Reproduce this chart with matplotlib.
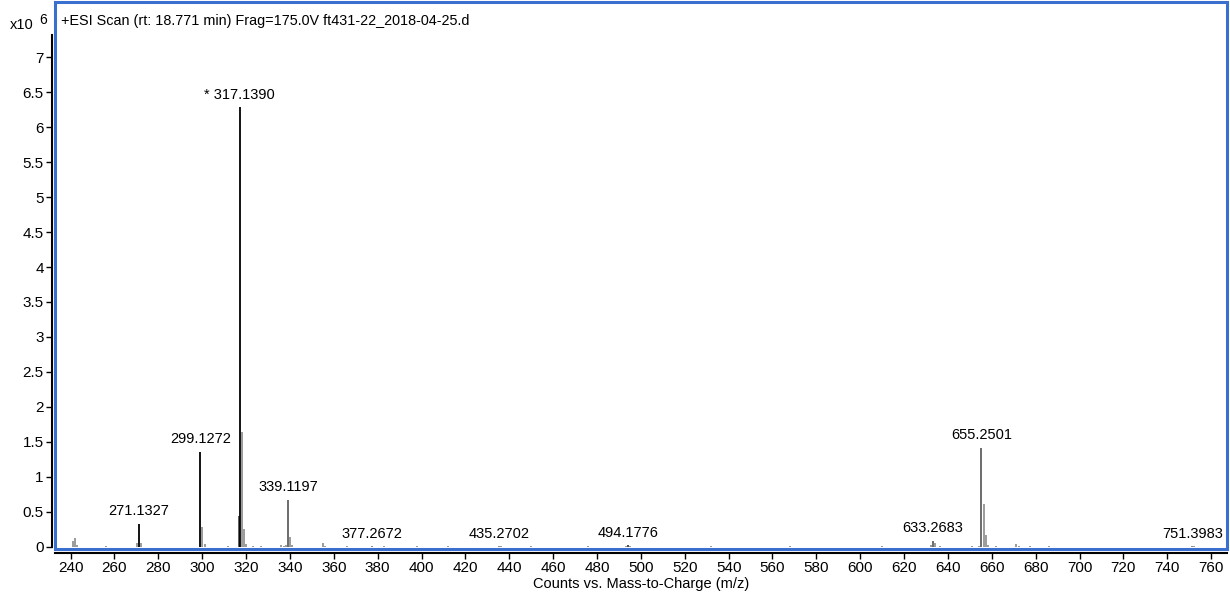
import numpy as np
import matplotlib.pyplot as plt
from matplotlib.patches import Rectangle

plt.rcParams['font.family'] = ['Liberation Sans', 'DejaVu Sans']

# labelled peaks (m/z, counts x10^6, label)
peak_mz = [271.1327, 299.1272, 317.1390, 339.1197, 377.2672, 435.2702,
           494.1776, 633.2683, 655.2501, 751.3983]
peak_counts = [0.33, 1.36, 6.28, 0.67, 0.012, 0.012, 0.025, 0.09, 1.42, 0.01]
peak_labels = ['271.1327', '299.1272', '* 317.1390', '339.1197', '377.2672',
               '435.2702', '494.1776', '633.2683', '655.2501', '751.3983']
peak_colors = ['black', 'black', 'black', '#606060', '#808080',
               '#808080', '#404040', '#606060', '#606060', '#808080']

# unlabelled peaks (isotopes, adducts, noise)
minor_mz = [241.1, 242.1, 243.1, 256.1, 270.1, 272.1, 300.13, 301.1, 312.0,
            316.9, 318.14, 319.14, 320.1, 323.0, 327.0, 336.1, 337.1, 338.1,
            340.12, 341.1, 355.1, 356.1, 366.0, 383.0, 398.0, 412.0, 436.3,
            450.0, 476.0, 493.2, 495.2, 532.0, 568.0, 610.0, 632.3, 634.3,
            636.3, 651.0, 654.2, 656.25, 657.25, 658.2, 662.0, 671.2, 672.2,
            677.2, 686.0, 752.4]
minor_counts = [0.08, 0.13, 0.03, 0.015, 0.05, 0.06, 0.29, 0.04, 0.015,
                0.44, 1.64, 0.25, 0.04, 0.012, 0.015, 0.03, 0.015, 0.03,
                0.14, 0.03, 0.06, 0.02, 0.008, 0.008, 0.006, 0.006, 0.008,
                0.006, 0.006, 0.01, 0.008, 0.006, 0.006, 0.008, 0.03, 0.05,
                0.015, 0.008, 0.02, 0.61, 0.17, 0.03, 0.01, 0.04, 0.02,
                0.02, 0.01, 0.008]
minor_colors = ['#808080'] * len(minor_mz)
minor_colors[minor_mz.index(316.9)] = '#303030'

title = '+ESI Scan (rt: 18.771 min) Frag=175.0V ft431-22_2018-04-25.d'

fig = plt.figure(figsize=(12.3, 6), dpi=100)
ax = fig.add_axes([0.0447, 0.085, 0.953, 0.912])

ax.vlines(minor_mz, 0, minor_counts, colors=minor_colors, linewidth=1.1)
ax.vlines(peak_mz, 0, peak_counts, colors=peak_colors, linewidth=1.3)

for mz, c, lab in zip(peak_mz, peak_counts, peak_labels):
    ax.annotate(lab, (mz, c), xytext=(0, 4), textcoords='offset points',
                ha='center', va='bottom', fontsize=10.5)

ax.set_xlim(232.9, 767.3)
ax.set_ylim(-0.03, 7.79)
ax.set_xticks(np.arange(240, 761, 20))
ax.set_yticks(np.arange(0, 7.01, 0.5))
ax.set_yticklabels(['%g' % v for v in np.arange(0, 7.01, 0.5)])
ax.tick_params(labelsize=11, length=4, width=1, pad=2)

for s in ['top', 'right']:
    ax.spines[s].set_visible(False)
ax.spines['left'].set_position(('outward', 2))
ax.spines['bottom'].set_position(('outward', 3))
ax.spines['left'].set_bounds(0, 7.32)
ax.spines['left'].set_linewidth(1.5)
ax.spines['bottom'].set_linewidth(1.5)

# blue selection frame round the plot area
ax.add_patch(Rectangle((0, 0), 1, 1, transform=ax.transAxes, fill=False,
                       edgecolor='#3a6fd0', linewidth=2.2, clip_on=False,
                       zorder=5))

ax.text(0.005, 0.978, title, transform=ax.transAxes, ha='left', va='top',
        fontsize=10.4)
fig.text(0.008, 0.958, 'x10', ha='left', va='center', fontsize=10.5)
fig.text(0.032, 0.966, '6', ha='left', va='center', fontsize=10)
ax.set_xlabel('Counts vs. Mass-to-Charge (m/z)', fontsize=10.5, labelpad=1)

fig.savefig('out.png', dpi=100)
